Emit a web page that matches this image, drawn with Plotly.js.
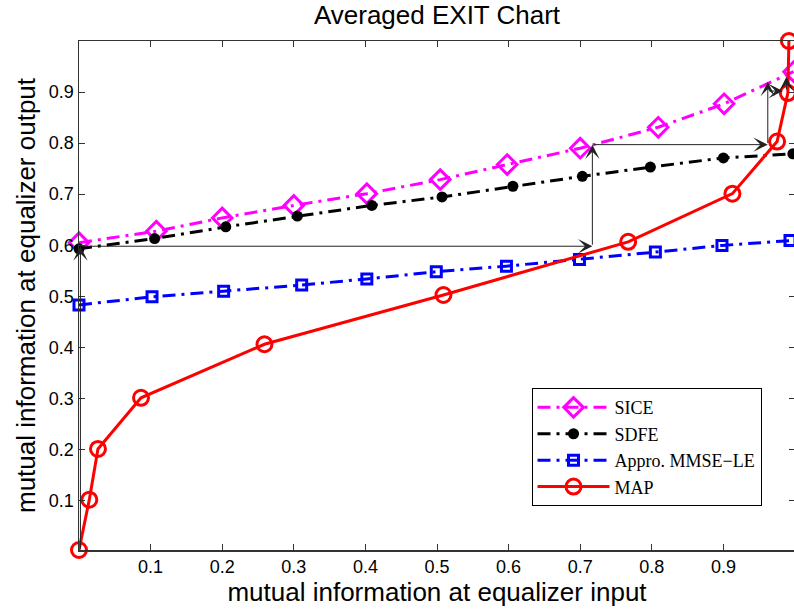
<!DOCTYPE html>
<html>
<head>
<meta charset="utf-8">
<script src="https://cdn.plot.ly/plotly-3.0.1.min.js"></script>
<style>
html,body{margin:0;padding:0;overflow:hidden;background:#fff;}
#chart{width:796px;height:613px;}
</style>
</head>
<body>
<div id="chart"></div>
<script>
// ---- data ----
const siceX = [0, 0.108, 0.2, 0.30, 0.402, 0.5045, 0.598, 0.700, 0.809, 0.901, 0.998];
const siceY = [0.605, 0.6275, 0.6535, 0.678, 0.701, 0.7285, 0.758, 0.790, 0.831, 0.877, 0.94];

const sdfeX = [0, 0.1056, 0.205, 0.305, 0.409, 0.507, 0.606, 0.703, 0.798, 0.900, 0.997];
const sdfeY = [0.593, 0.613, 0.636, 0.657, 0.678, 0.6945, 0.7155, 0.735, 0.753, 0.771, 0.779];

const mmseX = [0, 0.102, 0.202, 0.311, 0.402, 0.499, 0.597, 0.699, 0.805, 0.898, 0.993];
const mmseY = [0.483, 0.499, 0.510, 0.522, 0.534, 0.548, 0.559, 0.572, 0.5865, 0.5996, 0.609];

const mapX = [0, 0.0144, 0.0265, 0.0866, 0.259, 0.509, 0.767, 0.9126, 0.975, 0.990, 0.9915];
const mapY = [0.003, 0.1016, 0.201, 0.301, 0.406, 0.5025, 0.6066, 0.701, 0.803, 0.898, 1.0];

// decoding trajectory (arrow segments: start -> end)
const trajStartX = [0.002, 0.002, 0.717, 0.717, 0.962, 0.962, 0.988];
const trajStartY = [0.003, 0.598, 0.598, 0.797, 0.797, 0.902, 0.902];
const trajEndX   = [0.002, 0.717, 0.717, 0.962, 0.962, 0.983, 0.988];
const trajEndY   = [0.598, 0.598, 0.797, 0.797, 0.92, 0.902, 0.93];

const xTicks = [0.1, 0.2, 0.3, 0.4, 0.5, 0.6, 0.7, 0.8, 0.9];
const yTicks = [0.1, 0.2, 0.3, 0.4, 0.5, 0.6, 0.7, 0.8, 0.9];
const xTickText = ['0.1','0.2','0.3','0.4','0.5','0.6','0.7','0.8','0.9'];
const yTickText = ['0.1','0.2','0.3','0.4','0.5','0.6','0.7','0.8','0.9'];

const seriesNames = ['SICE', 'SDFE', 'Appro. MMSE\u2212LE', 'MAP'];

const dashDot = '13px,6px,3px,6px';

const traces = [
  {
    x: siceX, y: siceY, name: seriesNames[0], type: 'scatter', mode: 'lines+markers',
    line: {color: '#ff00ff', width: 3, dash: dashDot},
    marker: {symbol: 'diamond-open', size: 15, color: '#ff00ff', line: {width: 3, color: '#ff00ff'}},
    cliponaxis: false
  },
  {
    x: sdfeX, y: sdfeY, name: seriesNames[1], type: 'scatter', mode: 'lines+markers',
    line: {color: '#000000', width: 3, dash: dashDot},
    marker: {symbol: 'circle', size: 11, color: '#000000'},
    cliponaxis: false
  },
  {
    x: mmseX, y: mmseY, name: seriesNames[2], type: 'scatter', mode: 'lines+markers',
    line: {color: '#0000ff', width: 3, dash: dashDot},
    marker: {symbol: 'square-open', size: 10, color: '#0000ff', line: {width: 3, color: '#0000ff'}},
    cliponaxis: false
  },
  {
    x: mapX, y: mapY, name: seriesNames[3], type: 'scatter', mode: 'lines+markers',
    line: {color: '#ff0000', width: 3},
    marker: {symbol: 'circle-open', size: 15, color: '#ff0000', line: {width: 3, color: '#ff0000'}},
    cliponaxis: false
  }
];

const annotations = trajStartX.map((sx, i) => ({
  x: trajEndX[i], y: trajEndY[i], xref: 'x', yref: 'y',
  ax: sx, ay: trajStartY[i], axref: 'x', ayref: 'y',
  showarrow: true, arrowhead: 3, arrowsize: 2.4, arrowwidth: 1, arrowcolor: '#222222',
  text: ''
}));

const axisFont = {family: 'Liberation Sans, Arial, sans-serif', size: 18, color: '#000'};

const layout = {
  width: 796, height: 613,
  margin: {l: 79, r: 1, t: 41, b: 63},
  paper_bgcolor: '#ffffff', plot_bgcolor: '#ffffff',
  showlegend: true,
  title: {
    text: 'Averaged EXIT Chart',
    font: {family: 'Liberation Sans, Arial, sans-serif', size: 26, color: '#000'},
    x: 0.549, xanchor: 'center', y: 0.975, yanchor: 'middle'
  },
  xaxis: {
    range: [0, 1], tickvals: xTicks, ticktext: xTickText,
    ticks: 'inside', ticklen: 6, tickcolor: '#333', tickwidth: 1,
    showline: true, linecolor: '#333', linewidth: 1.5, mirror: 'ticks',
    showgrid: false, zeroline: false,
    tickfont: axisFont,
    title: {text: 'mutual information at equalizer input', font: {family: 'Liberation Sans, Arial, sans-serif', size: 26, color: '#000'}, standoff: 4}
  },
  yaxis: {
    range: [0.003, 1.0], tickvals: yTicks, ticktext: yTickText,
    ticks: 'inside', ticklen: 6, tickcolor: '#333', tickwidth: 1,
    showline: true, linecolor: '#333', linewidth: 1.5, mirror: 'ticks',
    showgrid: false, zeroline: false,
    tickfont: axisFont,
    title: {text: 'mutual information at equalizer output', font: {family: 'Liberation Sans, Arial, sans-serif', size: 26, color: '#000'}, standoff: 6}
  },
  legend: {
    x: 0.632, y: 0.318, xanchor: 'left', yanchor: 'top',
    bgcolor: '#ffffff', bordercolor: '#000000', borderwidth: 1,
    font: {family: 'Liberation Serif, Times New Roman, serif', size: 18, color: '#000'},
    itemwidth: 72, tracegroupgap: 0
  },
  annotations: annotations
};

Plotly.newPlot('chart', traces, layout, {displayModeBar: false, staticPlot: true});
</script>
</body>
</html>
